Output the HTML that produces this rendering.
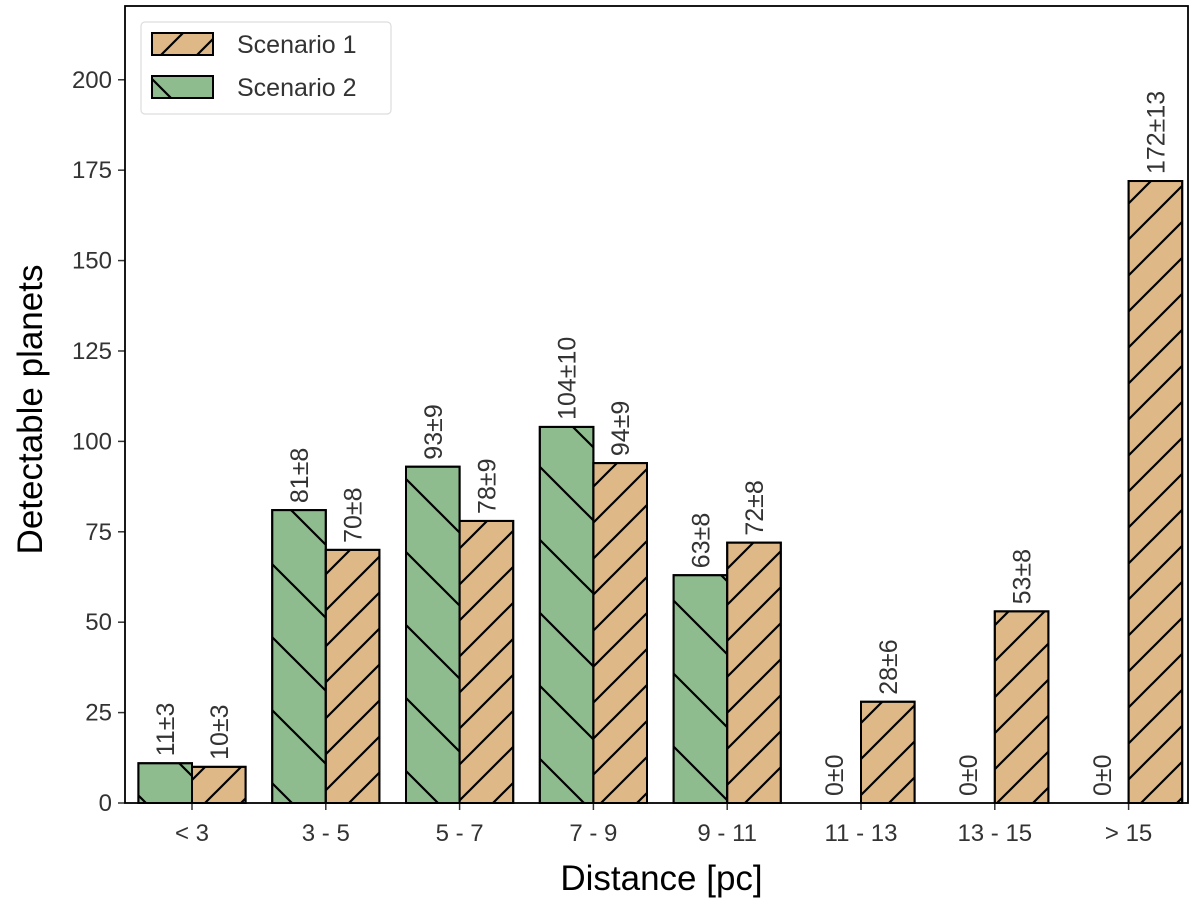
<!DOCTYPE html>
<html><head><meta charset="utf-8"><style>
body{margin:0;background:#fff}
svg{font-family:"Liberation Sans",Arial,sans-serif}
</style></head><body>
<svg id="chart" width="1200" height="905" xmlns="http://www.w3.org/2000/svg">
<defs>
<pattern id="hatchTan" patternUnits="userSpaceOnUse" width="36" height="36">
<path d="M-9,9 L9,-9 M0,36 L36,0 M27,45 L45,27" stroke="#000" stroke-width="2.2"/>
</pattern>
<pattern id="hatchGreen" patternUnits="userSpaceOnUse" width="73" height="73">
<path d="M-18,-18 L18,18 M0,0 L73,73 M55,-18 L91,18 M-18,55 L18,91" stroke="#000" stroke-width="2.2"/>
</pattern>
</defs>
<g id="plot"></g>
</svg>
<script>
const categories=["< 3","3 - 5","5 - 7","7 - 9","9 - 11","11 - 13","13 - 15","> 15"];
const scenario2=[11,81,93,104,63,0,0,0];
const scenario2Err=[3,8,9,10,8,0,0,0];
const scenario1=[10,70,78,94,72,28,53,172];
const scenario1Err=[3,8,9,9,8,6,8,13];
const yTicks=[0,25,50,75,100,125,150,175,200];

const L=125,R=1188,T=6,B=803,yMax=220.4;
const x0=192,step=133.8,bw=53.6;
const xPos=i=>x0+i*step;
const yPos=v=>B-(v/yMax)*(B-T);
const NS="http://www.w3.org/2000/svg";
const g=document.getElementById('plot');
function mk(tag,attrs,parent){const e=document.createElementNS(NS,tag);for(const k in attrs)e.setAttribute(k,attrs[k]);(parent||g).appendChild(e);return e;}

function bar(x,v,fill,pat,name){
  const y=yPos(v),h=B-y;
  const r=mk('rect',{x:x,y:y,width:bw,height:h,fill:fill,stroke:'#000','stroke-width':2});
  
  
  const r2=mk('rect',{x:x,y:y,width:bw,height:h,fill:'url(#'+pat+')',stroke:'#000','stroke-width':2});
  
  
}
function label(cx,v,txt,name){
  const y=yPos(v)-7;
  const t=mk('text',{x:cx+9,y:y,transform:'rotate(-90 '+(cx+9)+' '+y+')','font-size':25,fill:'#333'});
  t.textContent=txt;
  
  
}
categories.forEach((c,i)=>{
  const cx=xPos(i);
  bar(cx-bw,scenario2[i],'#8fbc8f','hatchGreen','bar-scenario2-'+i);
  bar(cx,scenario1[i],'#deb887','hatchTan','bar-scenario1-'+i);
  label(cx-bw/2,scenario2[i],scenario2[i]+'±'+scenario2Err[i],'value-label-scenario2-'+i);
  label(cx+bw/2,scenario1[i],scenario1[i]+'±'+scenario1Err[i],'value-label-scenario1-'+i);
  mk('line',{x1:cx,x2:cx,y1:B,y2:B+7,stroke:'#333','stroke-width':1.5});
  const t=mk('text',{x:cx,y:B+38,'text-anchor':'middle','font-size':24,fill:'#333'});
  t.textContent=c;
  
  
});
yTicks.forEach(v=>{
  const y=yPos(v);
  mk('line',{x1:L-7,x2:L,y1:y,y2:y,stroke:'#333','stroke-width':1.5});
  const t=mk('text',{x:L-13,y:y+8,'text-anchor':'end','font-size':24,fill:'#333'});
  t.textContent=v;
  
  
});
const fr=mk('rect',{x:L,y:T,width:R-L,height:B-T,fill:'none',stroke:'#000','stroke-width':1.8});


let t=mk('text',{x:(L+R)/2+5,y:890,'text-anchor':'middle','font-size':35,fill:'#000'});
t.textContent='Distance [pc]';


t=mk('text',{x:42,y:(T+B)/2+5,'text-anchor':'middle','font-size':35,fill:'#000',transform:'rotate(-90 42 '+((T+B)/2+5)+')'});
t.textContent='Detectable planets';


// legend
const lg=mk('g',{});


mk('rect',{x:141,y:22,width:250,height:92,rx:4,fill:'#fff',stroke:'#ddd','stroke-width':1.2},lg);
[['Scenario 1','#deb887','hatchTan',33],['Scenario 2','#8fbc8f','hatchGreen',76]].forEach(([n,f,p,y],k)=>{
  const e=mk('g',{},lg);
  
  
  mk('rect',{x:152,y:y,width:61,height:22,fill:f,stroke:'#000','stroke-width':2},e);
  mk('rect',{x:152,y:y,width:61,height:22,fill:'url(#'+p+')',stroke:'#000','stroke-width':2},e);
  const tt=mk('text',{x:237,y:y+20,'font-size':25,fill:'#333'},e);
  tt.textContent=n;
});
</script>
</body></html>
